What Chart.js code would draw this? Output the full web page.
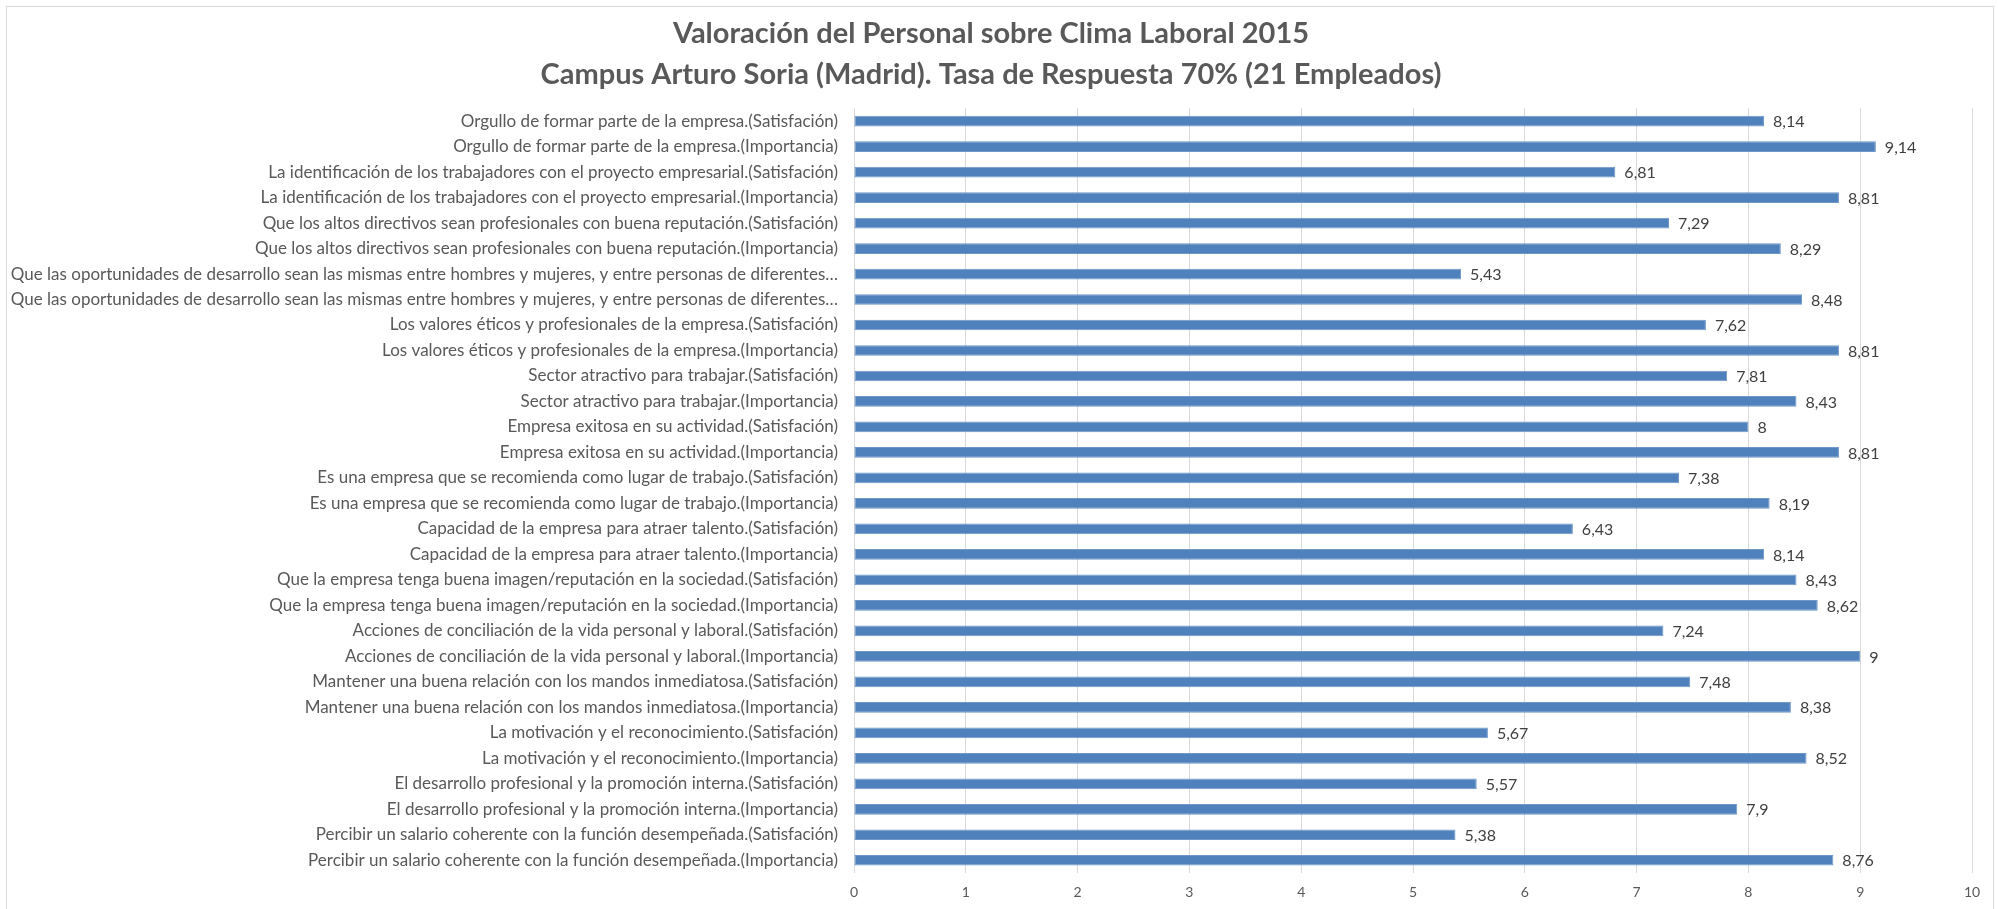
<!DOCTYPE html>
<html>
<head>
<meta charset="utf-8">
<title>Clima Laboral 2015</title>
<script src="https://cdn.jsdelivr.net/npm/chart.js@4.4.1/dist/chart.umd.min.js"></script>
<style>
	body { margin:0; background:#ffffff; }
	#wrap { position:relative; width:1998px; height:909px; overflow:hidden; }
	#frame { position:absolute; left:6px; top:6px; width:1986px; height:960px; border:1px solid #d9d9d9; pointer-events:none; }
</style>
</head>
<body>
<div id="wrap">
	<canvas id="myChart" width="1998" height="909"></canvas>
	<div id="frame"></div>
</div>
<script>
var titleLines = ["Valoración del Personal sobre Clima Laboral 2015", "Campus Arturo Soria (Madrid). Tasa de Respuesta 70% (21 Empleados)"];

var categories = [
	"Orgullo de formar parte de la empresa.(Satisfación)",
	"Orgullo de formar parte de la empresa.(Importancia)",
	"La identificación de los trabajadores con el proyecto empresarial.(Satisfación)",
	"La identificación de los trabajadores con el proyecto empresarial.(Importancia)",
	"Que los altos directivos sean profesionales con buena reputación.(Satisfación)",
	"Que los altos directivos sean profesionales con buena reputación.(Importancia)",
	"Que las oportunidades de desarrollo sean las mismas entre hombres y mujeres, y entre personas de diferentes…",
	"Que las oportunidades de desarrollo sean las mismas entre hombres y mujeres, y entre personas de diferentes…",
	"Los valores éticos y profesionales de la empresa.(Satisfación)",
	"Los valores éticos y profesionales de la empresa.(Importancia)",
	"Sector atractivo para trabajar.(Satisfación)",
	"Sector atractivo para trabajar.(Importancia)",
	"Empresa exitosa en su actividad.(Satisfación)",
	"Empresa exitosa en su actividad.(Importancia)",
	"Es una empresa que se recomienda como lugar de trabajo.(Satisfación)",
	"Es una empresa que se recomienda como lugar de trabajo.(Importancia)",
	"Capacidad de la empresa para atraer talento.(Satisfación)",
	"Capacidad de la empresa para atraer talento.(Importancia)",
	"Que la empresa tenga buena imagen/reputación en la sociedad.(Satisfación)",
	"Que la empresa tenga buena imagen/reputación en la sociedad.(Importancia)",
	"Acciones de conciliación de la vida personal y laboral.(Satisfación)",
	"Acciones de conciliación de la vida personal y laboral.(Importancia)",
	"Mantener una buena relación con los mandos inmediatosa.(Satisfación)",
	"Mantener una buena relación con los mandos inmediatosa.(Importancia)",
	"La motivación y el reconocimiento.(Satisfación)",
	"La motivación y el reconocimiento.(Importancia)",
	"El desarrollo profesional y la promoción interna.(Satisfación)",
	"El desarrollo profesional y la promoción interna.(Importancia)",
	"Percibir un salario coherente con la función desempeñada.(Satisfación)",
	"Percibir un salario coherente con la función desempeñada.(Importancia)"
];

var valores = [8.14, 9.14, 6.81, 8.81, 7.29, 8.29, 5.43, 8.48, 7.62, 8.81,
	7.81, 8.43, 8, 8.81, 7.38, 8.19, 6.43, 8.14, 8.43, 8.62,
	7.24, 9, 7.48, 8.38, 5.67, 8.52, 5.57, 7.9, 5.38, 8.76];

var xMin = 0;
var xMax = 10;
var xStep = 1;

var fontName = "Lato, 'Open Sans', sans-serif";

// value labels at the end of each bar, decimal comma like the original
var valueLabels = {
	id: 'valueLabels',
	afterDatasetsDraw: function(chart)
	{
		var ctx = chart.ctx;
		var meta = chart.getDatasetMeta(0);
		ctx.save();
		ctx.font = "16px " + fontName;
		ctx.fillStyle = "#404040";
		ctx.textAlign = "left";
		ctx.textBaseline = "middle";
		for (var i = 0; i < meta.data.length; i++)
		{
			var bar = meta.data[i];
			var txt = String(chart.data.datasets[0].data[i]).replace('.', ',');
			ctx.fillText(txt, bar.x + 9, bar.y + 1);
		}
		ctx.restore();
	}
};

function createChart()
{
	var ctx = document.getElementById('myChart').getContext('2d');
	var barChart = new Chart(ctx, {
		type: 'bar',
		data: {
			labels: categories,
			datasets: [{
				label: 'Valoración',
				data: valores,
				backgroundColor: '#4f81bd',
				borderColor: '#6f97c8',
				borderWidth: 1,
				borderSkipped: false,
				barPercentage: 0.42,
				categoryPercentage: 1
			}]
		},
		options: {
			indexAxis: 'y',
			responsive: false,
			animation: false,
			layout: { padding: { left: 10, right: 26, top: 0, bottom: 0 } },
			plugins: {
				legend: { display: false },
				tooltip: { enabled: false },
				title: {
					display: true,
					text: titleLines,
					color: '#595959',
					font: { family: fontName, size: 29, weight: 'bold', lineHeight: 1.42 },
					padding: { top: 13, bottom: 13 }
				}
			},
			scales: {
				x: {
					min: xMin,
					max: xMax,
					ticks: { stepSize: xStep, color: '#595959', font: { family: fontName, size: 14 }, padding: 11 },
					grid: { color: '#d9d9d9', lineWidth: 1, drawTicks: false },
					border: { display: false },
					afterFit: function(scale) { scale.height = 36; }
				},
				y: {
					ticks: { color: '#595959', font: { family: fontName, size: 17 }, padding: 16, autoSkip: false },
					grid: { display: false, drawTicks: false },
					border: { display: false },
					afterFit: function(scale) { scale.width = 844; }
				}
			}
		},
		plugins: [valueLabels]
	});
}

createChart();
</script>
</body>
</html>
